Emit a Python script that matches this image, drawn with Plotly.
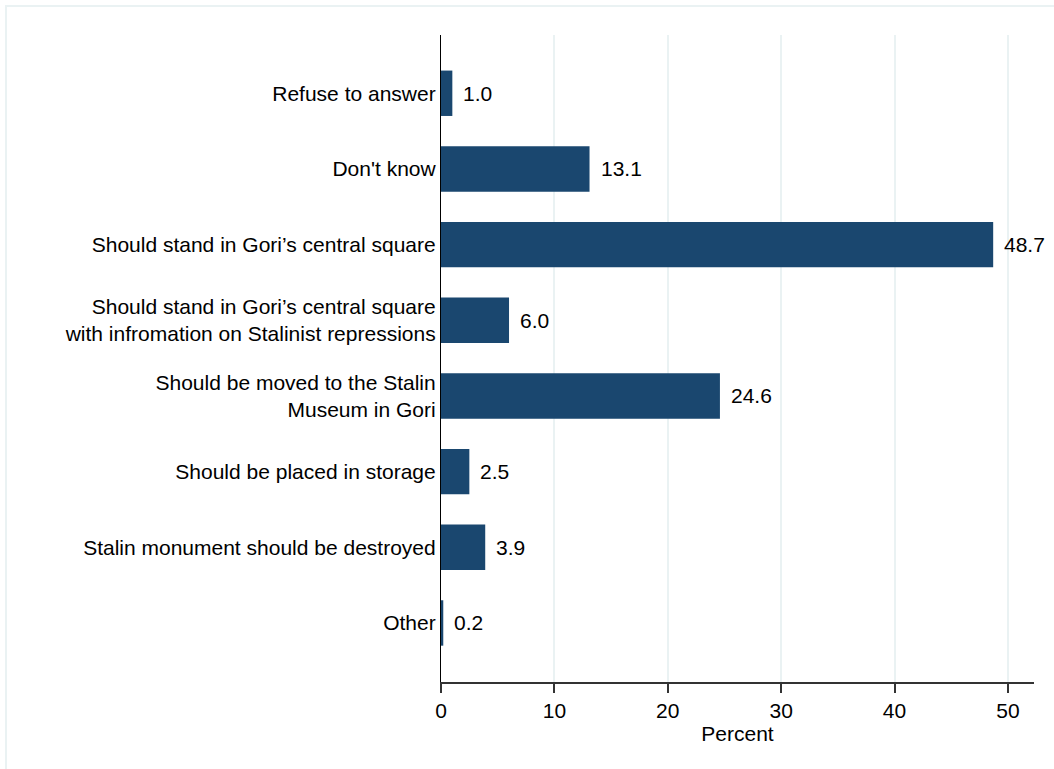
import plotly.graph_objects as go

categories = [
    "Refuse to answer",
    "Don't know",
    "Should stand in Gori\u2019s central square",
    "Should stand in Gori\u2019s central square<br>with infromation on Stalinist repressions",
    "Should be moved to the Stalin<br>Museum in Gori",
    "Should be placed in storage",
    "Stalin monument should be destroyed",
    "Other",
]
values = [1.0, 13.1, 48.7, 6.0, 24.6, 2.5, 3.9, 0.2]
xticks = [0, 10, 20, 30, 40, 50]

bar_color = "#1a476f"
grid_color = "#eaf2f3"
font_family = "Liberation Sans, Arial, sans-serif"
fs = 21

n = len(categories)
ypos = [n - 1 - i for i in range(n)]

fig = go.Figure()
fig.add_trace(go.Bar(
    x=values, y=ypos, orientation="h", width=0.6,
    marker=dict(color=bar_color, line=dict(width=0)),
    hoverinfo="skip",
))

for v, y in zip(values, ypos):
    fig.add_annotation(x=v, y=y, text=f"{v:.1f}", showarrow=False,
                       xanchor="left", yanchor="middle", xshift=9,
                       font=dict(size=fs, color="black", family=font_family))

L, R, T, B = 441, 20, 35, 87
W, H = 1054, 769
pw, ph = W - L - R, H - T - B
fig.add_shape(type="rect", xref="paper", yref="paper",
              x0=(6 - L) / pw, x1=(1070 - L) / pw,
              y0=(H - B - 780) / ph, y1=(H - B - 6) / ph,
              line=dict(color=grid_color, width=2), fillcolor="rgba(0,0,0,0)",
              layer="below")

fig.update_layout(
    width=W, height=H,
    margin=dict(l=L, r=R, t=T, b=B),
    paper_bgcolor="white", plot_bgcolor="white",
    showlegend=False,
    font=dict(family=font_family, size=fs, color="black"),
    xaxis=dict(
        range=[0, 52.3], tickvals=xticks, ticktext=[str(t) for t in xticks],
        showgrid=True, gridcolor=grid_color, gridwidth=1.5,
        zeroline=False, showline=True, linecolor="#333333", linewidth=1.5,
        ticks="outside", ticklen=9, tickcolor="#333333", tickwidth=1.5,
        tickfont=dict(size=fs),
        title=dict(text="Percent", font=dict(size=fs), standoff=0),
    ),
    yaxis=dict(
        range=[-0.78, 7.77], tickvals=ypos, ticktext=categories,
        showgrid=False, zeroline=False, showline=True, linecolor="black",
        linewidth=1.2, ticks="", ticklabelstandoff=0,
        tickfont=dict(size=fs),
    ),
)

fig.write_html("out.html",
               config={"displayModeBar": False},
               post_script="document.body.style.margin='0';document.body.style.overflow='hidden';")
